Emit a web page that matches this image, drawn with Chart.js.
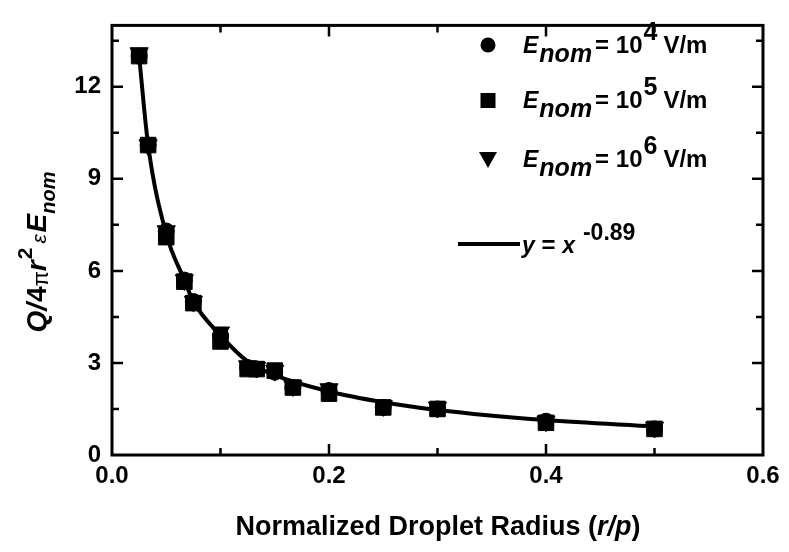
<!DOCTYPE html>
<html>
<head>
<meta charset="utf-8">
<script src="https://cdn.jsdelivr.net/npm/chart.js@4"></script>
<style>
  body { margin: 0; background: #fff; }
  canvas { display: block; }
</style>
</head>
<body>
<canvas id="chargeChart" width="789" height="552"></canvas>
<script>
// droplet radius r/p
const radius = [0.025, 0.0333, 0.05, 0.0667, 0.075, 0.1, 0.125, 0.1333, 0.15, 0.1667, 0.2, 0.25, 0.3, 0.4, 0.5];
// normalized charge for the three nominal fields
const field1e4 = [13.0, 10.1, 7.3, 5.7, 5.0, 3.9, 2.85, 2.8, 2.7, 2.2, 2.1, 1.55, 1.5, 1.1, 0.85];
const field1e5 = [13.0, 10.1, 7.1, 5.65, 4.95, 3.7, 2.8, 2.8, 2.75, 2.2, 2.0, 1.55, 1.5, 1.05, 0.85];
const field1e6 = [13.1, 10.1, 7.3, 5.7, 5.0, 4.0, 2.9, 2.85, 2.75, 2.25, 2.15, 1.6, 1.55, 1.1, 0.9];
// fitted curve y = x^-0.89
const fitX = [0.025, 0.0333, 0.05, 0.0667, 0.075, 0.1, 0.125, 0.15, 0.2, 0.25, 0.3, 0.4, 0.5];
const fitY = [13.0, 10.1, 7.2, 5.7, 5.0, 3.9, 3.05, 2.6, 2.07, 1.72, 1.47, 1.14, 0.93];
const xTicks = [0, 0.2, 0.4, 0.6];
const yTicks = [0, 3, 6, 9, 12];

const FONT = "'Liberation Sans', Arial, sans-serif";
const pts = (xs, ys) => xs.map((x, i) => ({ x: x, y: ys[i] }));

// draw a run of text pieces: [text, font, dy, gapAfter]
function drawRich(ctx, x, y, parts, align) {
    let total = 0;
    parts.forEach(p => { ctx.font = p[1]; total += ctx.measureText(p[0]).width + (p[3] || 0); });
    let cx = align === "center" ? x - total / 2 : x;
    ctx.textAlign = "left";
    ctx.textBaseline = "alphabetic";
    parts.forEach(p => {
        ctx.font = p[1];
        ctx.fillText(p[0], cx, y + (p[2] || 0));
        cx += ctx.measureText(p[0]).width + (p[3] || 0);
    });
}

const frame = {
    id: "frame",
    beforeDatasetsDraw(chart) {
        const ctx = chart.ctx, a = chart.chartArea;
        const xs = chart.scales.x, ys = chart.scales.y;
        ctx.save();
        ctx.strokeStyle = "#000";
        ctx.lineWidth = 3;
        ctx.strokeRect(a.left, a.top, a.right - a.left, a.bottom - a.top);
        ctx.lineWidth = 2.5;
        ctx.beginPath();
        for (let v = 0.1; v < 0.6; v += 0.1) {
            const px = xs.getPixelForValue(v);
            const len = Math.abs(v / 0.2 - Math.round(v / 0.2)) < 1e-6 ? 11 : 7;
            ctx.moveTo(px, a.bottom); ctx.lineTo(px, a.bottom - len);
            ctx.moveTo(px, a.top); ctx.lineTo(px, a.top + len);
        }
        for (let v = 1.5; v < 14; v += 1.5) {
            const py = ys.getPixelForValue(v);
            const len = Math.abs(v / 3 - Math.round(v / 3)) < 1e-6 ? 11 : 7;
            ctx.moveTo(a.left, py); ctx.lineTo(a.left + len, py);
            ctx.moveTo(a.right, py); ctx.lineTo(a.right - len, py);
        }
        ctx.stroke();
        ctx.restore();
    },
    afterDraw(chart) {
        const ctx = chart.ctx;
        ctx.save();
        ctx.fillStyle = "#000";
        ctx.strokeStyle = "#000";

        // legend markers
        const mx = 488;
        ctx.beginPath(); ctx.arc(mx, 45, 7.5, 0, Math.PI * 2); ctx.fill();
        ctx.fillRect(mx - 7.5, 93, 15, 15);
        ctx.beginPath(); ctx.moveTo(mx - 9, 152); ctx.lineTo(mx + 9, 152); ctx.lineTo(mx, 168); ctx.closePath(); ctx.fill();
        ctx.lineWidth = 4;
        ctx.beginPath(); ctx.moveTo(458, 244); ctx.lineTo(520, 244); ctx.stroke();

        const bi = "italic bold 23px " + FONT, b = "bold 24px " + FONT;
        const sub = "italic bold 25px " + FONT;
        [["4", 53], ["5", 108], ["6", 167]].forEach(r => {
            drawRich(ctx, 523, r[1], [["E", bi, 0, 1], ["nom", sub, 9, 3], ["= 10", b, 0, 1], [r[0], "bold 25px " + FONT, -13, 6], ["V/m", b, 0]]);
        });
        drawRich(ctx, 522, 253, [["y", bi, 0], [" = ", b, 0], ["x", bi, 0, 8], ["-0.89", "bold 23px " + FONT, -13]]);

        // x axis title
        drawRich(ctx, 438, 535, [["Normalized Droplet Radius (", "bold 27px " + FONT, 0],
            ["r/p", "italic bold 27px " + FONT, 0], [")", "bold 27px " + FONT, 0]], "center");

        // y axis title
        ctx.translate(46, 252);
        ctx.rotate(-Math.PI / 2);
        drawRich(ctx, 0, 0, [["Q", "italic bold 28px " + FONT, 0], ["/", "italic bold 28px " + FONT, 0, 1],
            ["4", "bold 28px " + FONT, 0], ["\u03c0", "22px " + FONT, 2], ["r", "italic bold 28px " + FONT, 0, 1],
            ["2", "bold 21px " + FONT, -14, 4], ["\u03b5", "italic 21px " + FONT, 0, 2],
            ["E", "italic bold 28px " + FONT, 0], ["nom", "italic bold 20px " + FONT, 9]], "center");
        ctx.restore();
    }
};

new Chart(document.getElementById("chargeChart"), {
    type: "scatter",
    data: {
        datasets: [{
            label: "E_nom = 10^4 V/m",
            data: pts(radius, field1e4),
            pointStyle: "circle",
            pointRadius: 8,
            backgroundColor: "#000",
            borderColor: "#000",
            order: 1
        },
        {
            label: "E_nom = 10^5 V/m",
            data: pts(radius, field1e5),
            pointStyle: "rect",
            pointRadius: 11,
            backgroundColor: "#000",
            borderColor: "#000",
            order: 1
        },
        {
            label: "E_nom = 10^6 V/m",
            data: pts(radius, field1e6),
            pointStyle: "triangle",
            rotation: 180,
            pointRadius: 10.5,
            backgroundColor: "#000",
            borderColor: "#000",
            order: 1
        },
        {
            label: "y = x^-0.89",
            data: pts(fitX, fitY),
            showLine: true,
            pointRadius: 0,
            borderColor: "#000",
            borderWidth: 4,
            tension: 0.4,
            cubicInterpolationMode: "monotone",
            order: 10
        }]
    },
    options: {
        responsive: false,
        animation: false,
        devicePixelRatio: 1,
        layout: { padding: { left: 0, top: 4, right: 26, bottom: 0 } },
        plugins: { legend: { display: false }, tooltip: { enabled: false } },
        scales: {
            x: {
                type: "linear",
                min: 0,
                max: 0.6,
                grid: { display: false, drawTicks: false },
                border: { display: false },
                afterBuildTicks: s => { s.ticks = xTicks.map(v => ({ value: v })); },
                afterFit: s => { s.height = 97; },
                ticks: {
                    padding: 7,
                    color: "#000",
                    font: { family: FONT, size: 24, weight: "bold" },
                    callback: v => v.toFixed(1)
                }
            },
            y: {
                min: 0,
                max: 14,
                grid: { display: false, drawTicks: false },
                border: { display: false },
                afterBuildTicks: s => { s.ticks = yTicks.map(v => ({ value: v })); },
                afterFit: s => { s.width = 112; },
                ticks: {
                    padding: 11,
                    color: "#000",
                    font: { family: FONT, size: 24, weight: "bold" }
                }
            }
        }
    },
    plugins: [frame]
});
</script>
</body>
</html>
